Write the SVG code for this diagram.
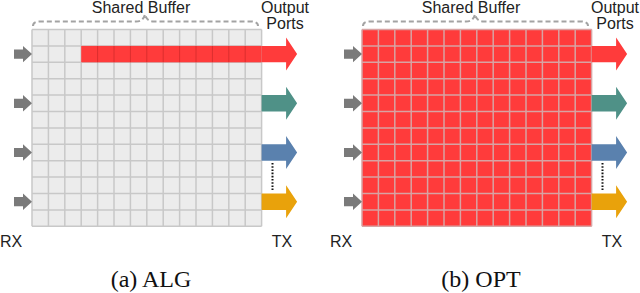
<svg xmlns="http://www.w3.org/2000/svg" xmlns:xlink="http://www.w3.org/1999/xlink" width="640" height="293" viewBox="0 0 640 293">
<style>
  .lbl { font-family: "Liberation Sans", Arial, sans-serif; font-size: 16px; fill: #222; }
  .cap { font-family: "Liberation Serif", "Times New Roman", serif; font-size: 24px; fill: #111; }
  .brace { fill: none; stroke: #a3a3a3; stroke-width: 2; stroke-dasharray: 5 3; }
  .gridlines { fill: none; stroke-width: 1.5; }
  .in { fill: #7a7a7a; }
  .red { fill: #ff3b3b; }
  .teal { fill: #4f9187; }
  .blue { fill: #5a81ae; }
  .orange { fill: #e9a20b; }
  .dots { stroke: #111; stroke-width: 2; stroke-dasharray: 1.6 1.6; fill: none; }
</style>
<defs>
  <path id="gridpath" d="M32,29.5V226.3M48.4,29.5V226.3M64.8,29.5V226.3M81.2,29.5V226.3M97.6,29.5V226.3M114,29.5V226.3M130.4,29.5V226.3M146.8,29.5V226.3M163.2,29.5V226.3M179.6,29.5V226.3M196,29.5V226.3M212.4,29.5V226.3M228.8,29.5V226.3M245.2,29.5V226.3M261.6,29.5V226.3M32,29.5H261.6M32,45.9H261.6M32,62.3H261.6M32,78.7H261.6M32,95.1H261.6M32,111.5H261.6M32,127.9H261.6M32,144.3H261.6M32,160.7H261.6M32,177.1H261.6M32,193.5H261.6M32,209.9H261.6M32,226.3H261.6"/>
  <polygon id="inArrow" points="-18,-4.6 -9,-4.6 -9,-8.2 0,0 -9,8.2 -9,4.6 -18,4.6"/>
  <polygon id="outArrow" points="0,-8.2 24.5,-8.2 24.5,-16.5 35.5,0 24.5,16.5 24.5,8.2 0,8.2"/>
  <path id="bracePath" d="M33,26 Q33,21.5 40,21.5 L136,21.5 Q143.5,21.5 145,14 Q146.5,21.5 154,21.5 L251,21.5 Q258,21.5 258,26"/>
</defs>

<g id="panel-a">
  <g id="a-buffer">
    <rect x="32" y="29.5" width="229.6" height="196.8" fill="#ececec"/>
    <use xlink:href="#gridpath" class="gridlines" stroke="#c8c8c8"/>
    <rect x="81.2" y="45.9" width="180.4" height="16.4" class="red"/>
    <path d="M97.6,45.9V62.3M114,45.9V62.3M130.4,45.9V62.3M146.8,45.9V62.3M163.2,45.9V62.3M179.6,45.9V62.3M196,45.9V62.3M212.4,45.9V62.3M228.8,45.9V62.3M245.2,45.9V62.3" stroke="#dc2e2e" stroke-width="1"/>
    <use xlink:href="#bracePath" class="brace"/>
    <text class="lbl" x="141" y="12.5" text-anchor="middle">Shared Buffer</text>
  </g>
  <g id="a-rx">
    <use xlink:href="#inArrow" class="in" x="32" y="54.1"/>
    <use xlink:href="#inArrow" class="in" x="32" y="103.3"/>
    <use xlink:href="#inArrow" class="in" x="32" y="152.5"/>
    <use xlink:href="#inArrow" class="in" x="32" y="201.7"/>
    <text class="lbl" x="0" y="246.5">RX</text>
  </g>
  <g id="a-tx">
    <use xlink:href="#outArrow" class="red" x="261.6" y="54.1"/>
    <use xlink:href="#outArrow" class="teal" x="261.6" y="103.3"/>
    <use xlink:href="#outArrow" class="blue" x="261.6" y="152.5"/>
    <use xlink:href="#outArrow" class="orange" x="261.6" y="201.7"/>
    <line class="dots" x1="272.5" y1="163" x2="272.5" y2="190"/>
    <text class="lbl" x="285" y="13" text-anchor="middle">Output</text>
    <text class="lbl" x="285" y="29" text-anchor="middle">Ports</text>
    <text class="lbl" x="282" y="246.5" text-anchor="middle">TX</text>
  </g>
  <text class="cap" x="151" y="287" text-anchor="middle">(a) ALG</text>
</g>

<g id="panel-b" transform="translate(330,0)">
  <g id="b-buffer">
    <rect x="32" y="29.5" width="229.6" height="196.8" class="red"/>
    <use xlink:href="#gridpath" class="gridlines" stroke="#d8a3a3"/>
    <use xlink:href="#bracePath" class="brace"/>
    <text class="lbl" x="141" y="12.5" text-anchor="middle">Shared Buffer</text>
  </g>
  <g id="b-rx">
    <use xlink:href="#inArrow" class="in" x="32" y="54.1"/>
    <use xlink:href="#inArrow" class="in" x="32" y="103.3"/>
    <use xlink:href="#inArrow" class="in" x="32" y="152.5"/>
    <use xlink:href="#inArrow" class="in" x="32" y="201.7"/>
    <text class="lbl" x="0" y="246.5">RX</text>
  </g>
  <g id="b-tx">
    <use xlink:href="#outArrow" class="red" x="261.6" y="54.1"/>
    <use xlink:href="#outArrow" class="teal" x="261.6" y="103.3"/>
    <use xlink:href="#outArrow" class="blue" x="261.6" y="152.5"/>
    <use xlink:href="#outArrow" class="orange" x="261.6" y="201.7"/>
    <line class="dots" x1="272.5" y1="163" x2="272.5" y2="190"/>
    <text class="lbl" x="285" y="13" text-anchor="middle">Output</text>
    <text class="lbl" x="285" y="29" text-anchor="middle">Ports</text>
    <text class="lbl" x="282" y="246.5" text-anchor="middle">TX</text>
  </g>
  <text class="cap" x="151" y="287" text-anchor="middle">(b) OPT</text>
</g>
</svg>
